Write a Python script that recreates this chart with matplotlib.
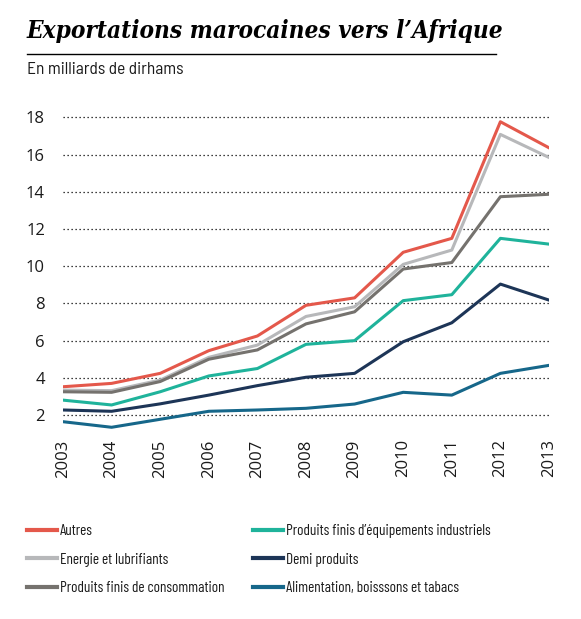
import matplotlib
matplotlib.use('Agg')
import matplotlib.pyplot as plt

# données (milliards de dirhams)
years = [2003, 2004, 2005, 2006, 2007, 2008, 2009, 2010, 2011, 2012, 2013]
autres = [3.52, 3.70, 4.24, 5.46, 6.25, 7.90, 8.30, 10.75, 11.50, 17.77, 16.37]
energie = [3.34, 3.31, 3.88, 5.10, 5.76, 7.30, 7.82, 10.10, 10.87, 17.09, 15.85]
conso = [3.25, 3.22, 3.80, 5.00, 5.50, 6.90, 7.55, 9.85, 10.20, 13.74, 13.87]
equipements = [2.80, 2.54, 3.25, 4.10, 4.50, 5.80, 6.00, 8.15, 8.47, 11.50, 11.19]
demi = [2.27, 2.20, 2.60, 3.07, 3.58, 4.03, 4.24, 5.94, 6.96, 9.04, 8.18]
alimentation = [1.64, 1.34, 1.77, 2.20, 2.27, 2.36, 2.59, 3.22, 3.07, 4.24, 4.67]

labels = ['Autres', 'Energie et lubrifiants', 'Produits finis de consommation',
          'Produits finis d\u2019équipements industriels', 'Demi produits',
          'Alimentation, boisssons et tabacs']
series = [autres, energie, conso, equipements, demi, alimentation]
colors = ['#e4584b', '#b7b8ba', '#75726e', '#1fb39b', '#1d3557', '#16678a']

plt.rcParams['font.family'] = ['Barlow Semi Condensed', 'Archivo Narrow', 'DejaVu Sans']
legend_font = ['Barlow Condensed', 'Archivo Narrow', 'DejaVu Sans']
tick_font = ['Open Sans', 'DejaVu Sans']

W, H = 581, 619
fig = plt.figure(figsize=(W / 100, H / 100), dpi=100)
ax = fig.add_axes([63 / W, 1 - 431 / H, (549 - 63) / W, (431 - 100) / H])

lines = []
for vals, c, lab in zip(series, colors, labels):
    ln, = ax.plot(years, vals, color=c, linewidth=2.2, label=lab)
    lines.append(ln)

ax.set_xlim(2003, 2013)
ax.set_ylim(1.14, 18.94)
ax.set_yticks(range(2, 19, 2))
ax.set_xticks(years)
ax.set_xticklabels([str(y) for y in years], rotation=90, va='top')
ax.tick_params(axis='both', length=0, labelsize=12, colors='#1a1a1a')
ax.tick_params(axis='y', pad=13)
ax.tick_params(axis='x', pad=6)
for t in ax.get_xticklabels() + ax.get_yticklabels():
    t.set_family(tick_font)
ax.grid(axis='y', linestyle=(0, (1, 2.2)), color='black', linewidth=0.9)
ax.set_axisbelow(True)
for s in ax.spines.values():
    s.set_visible(False)

# titre, filet et sous-titre
fig.text(27 / W, 1 - 31 / H, 'Exportations marocaines vers l\u2019Afrique',
         family='DejaVu Serif', fontweight='bold', style='italic',
         fontstretch='condensed', fontsize=17.5, va='center', ha='left')
fig.add_artist(plt.Line2D([27 / W, 496 / W], [1 - 54 / H, 1 - 54 / H],
                          color='black', linewidth=1))
fig.text(27 / W, 1 - 70 / H, 'En milliards de dirhams', fontsize=12.5,
         va='center', ha='left', color='#1a1a1a')

# légende en deux colonnes
leg_kw = dict(loc='upper left', frameon=False, handlelength=1.95,
              handletextpad=0.2, labelspacing=0.95, borderaxespad=0,
              borderpad=0, labelcolor='#1a1a1a',
              prop={'family': legend_font, 'size': 11})
fig.legend(lines[:3], labels[:3], bbox_to_anchor=(27 / W, 1 - 524 / H), **leg_kw)
fig.legend(lines[3:], labels[3:], bbox_to_anchor=(253 / W, 1 - 524 / H), **leg_kw)
for lg in fig.legends:
    for h in lg.legend_handles:
        h.set_linewidth(3)

plt.savefig('out.png', dpi=100)
